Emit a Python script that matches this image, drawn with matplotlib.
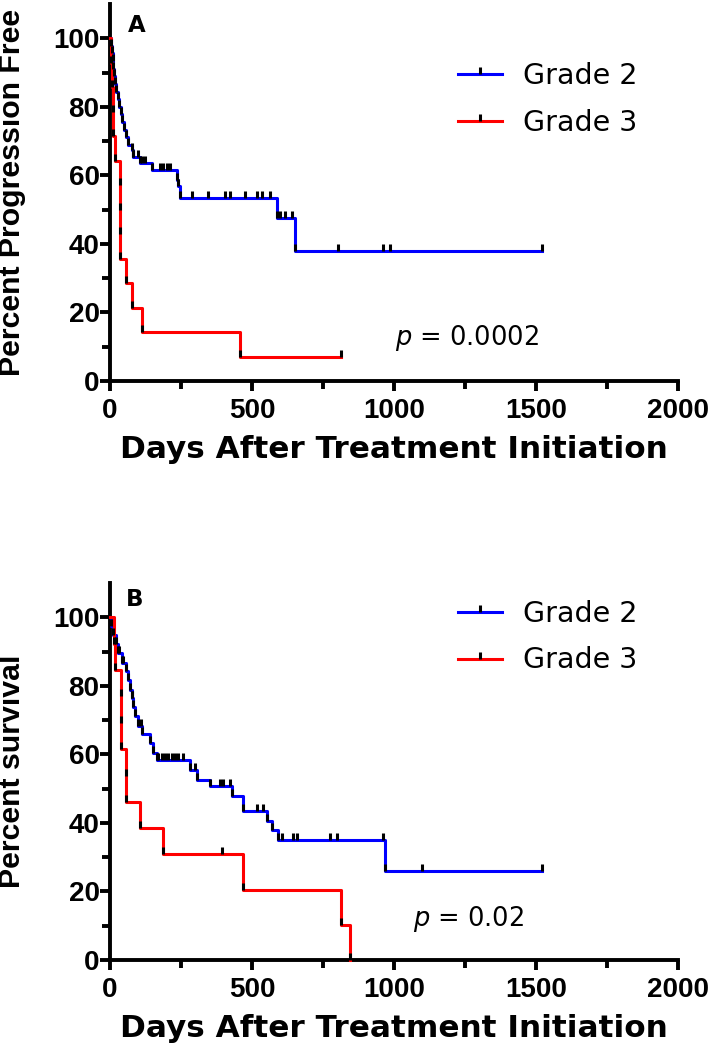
import matplotlib
matplotlib.use("Agg")
import matplotlib.pyplot as plt
import numpy as np
from matplotlib.lines import Line2D
from matplotlib.markers import TICKUP

plt.rcParams['font.family'] = ['DejaVu Sans']
plt.rcParams['mathtext.fontset'] = 'dejavusans'

# Panel A: progression free survival (step times in days, percent after each step)
pfs_g2_t = [0, 3, 6, 9, 12, 15, 18, 22, 27, 32, 38, 43, 48, 55, 65, 76, 80, 106, 147, 235, 241, 245, 587, 651]
pfs_g2_v = [100, 97.8, 95.6, 93.3, 91.1, 88.9, 86.7, 84.4, 82.2, 80.0, 77.8, 75.6, 73.3, 71.1, 68.9, 67.5, 65.5,
            63.6, 61.7, 58.7, 56.8, 53.4, 47.6, 37.9]
pfs_g2_cens = [82, 100, 111, 123, 176, 188, 200, 211, 288, 346, 405, 423, 475, 516, 534, 563, 599, 616, 640,
               804, 962, 986, 1520]

pfs_g3_t = [0, 5, 8, 10, 12, 18, 35, 35, 35, 35, 55, 78, 112, 458]
pfs_g3_v = [100, 92.9, 85.7, 78.6, 71.4, 64.3, 57.1, 50.0, 42.9, 35.7, 28.6, 21.4, 14.3, 7.1]
pfs_g3_cens = [813]

# Panel B: overall survival
os_g2_t = [0, 5, 12, 22, 29, 41, 55, 62, 70, 76, 82, 88, 100, 112, 141, 153, 164, 282, 305, 352, 428, 469, 552,
           569, 590, 970]
os_g2_v = [100, 97.4, 94.7, 92.1, 89.5, 86.8, 84.2, 81.6, 78.9, 76.3, 73.7, 71.1, 68.4, 65.8, 63.2, 60.5, 58.4,
           55.5, 52.6, 50.7, 47.8, 43.5, 40.7, 37.8, 34.9, 26.0]
os_g2_cens = [33, 45, 78, 108, 170, 182, 194, 205, 217, 229, 241, 258, 299, 387, 399, 423, 516, 540, 604, 646,
              657, 775, 798, 960, 1100, 1520]

os_g3_t = [0, 15, 18, 40, 40, 40, 56, 56, 106, 188, 470, 813, 845]
os_g3_v = [100, 92.3, 84.6, 76.9, 69.2, 61.5, 53.8, 46.2, 38.5, 30.8, 20.5, 10.3, 0]
os_g3_cens = [393]

BLUE = '#0000ff'
RED = '#ff0000'
LW = 2.2
ARIAL = ['Liberation Sans', 'DejaVu Sans']


def km(ax, times, values, cens, color):
    t = list(times)
    v = list(values)
    if cens and cens[-1] > t[-1]:
        t.append(cens[-1])
        v.append(v[-1])
    ax.step(t, v, where='post', color=color, lw=LW, zorder=3, clip_on=False)
    ax.plot(times[1:], values[1:], ls='none', marker=TICKUP, ms=5, mew=2.2, mec='k', zorder=4)
    idx = np.searchsorted(times, cens, side='right') - 1
    cv = [values[i] for i in idx]
    ax.plot(cens, cv, ls='none', marker=TICKUP, ms=5, mew=2.2, mec='k', zorder=4)


def style(ax, ylabel):
    ax.set_xlim(0, 2000)
    ax.set_ylim(0, 110)
    for s in ['top', 'right']:
        ax.spines[s].set_visible(False)
    for s in ['left', 'bottom']:
        ax.spines[s].set_linewidth(2.8)
    ax.set_xticks([0, 500, 1000, 1500, 2000])
    ax.set_xticks([250, 750, 1250, 1750], minor=True)
    ax.set_yticks([0, 20, 40, 60, 80, 100])
    ax.set_yticks([10, 30, 50, 70, 90], minor=True)
    ax.tick_params(which='major', length=7, width=2.8, labelsize=20)
    ax.tick_params(which='minor', length=5.5, width=2.8)
    ax.tick_params(axis='y', pad=0.5)
    ax.tick_params(axis='x', pad=5)
    for lab in ax.get_xticklabels() + ax.get_yticklabels():
        lab.set_fontweight('bold')
        lab.set_family(ARIAL)
    ax.set_xlabel('Days After Treatment Initiation', fontsize=22.4, fontweight='bold', labelpad=8)
    ax.set_ylabel(ylabel, fontsize=21.8, fontweight='bold', family=ARIAL)
    ax.yaxis.set_label_coords(-0.148, 0.5)


def legend(ax, top):
    h = [Line2D([], [], color=BLUE, lw=LW, marker=TICKUP, ms=5, mew=2.2, mec='k'),
         Line2D([], [], color=RED, lw=LW, marker=TICKUP, ms=5, mew=2.2, mec='k')]
    ax.legend(h, ['Grade 2', 'Grade 3'], loc='upper left', bbox_to_anchor=(0.613, top), frameon=False,
              fontsize=20.5, handlelength=1.55, handletextpad=0.74, labelspacing=0.65, borderpad=0,
              borderaxespad=0, numpoints=1)


fig = plt.figure(figsize=(7.09, 10.53), dpi=100)
axA = fig.add_axes([110 / 709, 1 - 381 / 1053, 568 / 709, 377 / 1053])
axB = fig.add_axes([110 / 709, 1 - 960 / 1053, 568 / 709, 377 / 1053])

km(axA, pfs_g2_t, pfs_g2_v, pfs_g2_cens, BLUE)
km(axA, pfs_g3_t, pfs_g3_v, pfs_g3_cens, RED)
style(axA, 'Percent Progression Free')
legend(axA, 0.845)
axA.text(0.048, 0.944, 'A', transform=axA.transAxes, fontsize=16.5, fontweight='bold', ha='center', va='center')
axA.text(0.502, 0.115, '$\\it{p}$ = 0.0002', transform=axA.transAxes, fontsize=18.5, ha='left', va='center')

km(axB, os_g2_t, os_g2_v, os_g2_cens, BLUE)
km(axB, os_g3_t, os_g3_v, os_g3_cens, RED)
style(axB, 'Percent survival')
legend(axB, 0.955)
axB.text(0.044, 0.955, 'B', transform=axB.transAxes, fontsize=16.5, fontweight='bold', ha='center', va='center')
axB.text(0.533, 0.108, '$\\it{p}$ = 0.02', transform=axB.transAxes, fontsize=18.5, ha='left', va='center')

fig.savefig('out.png', dpi=100)
